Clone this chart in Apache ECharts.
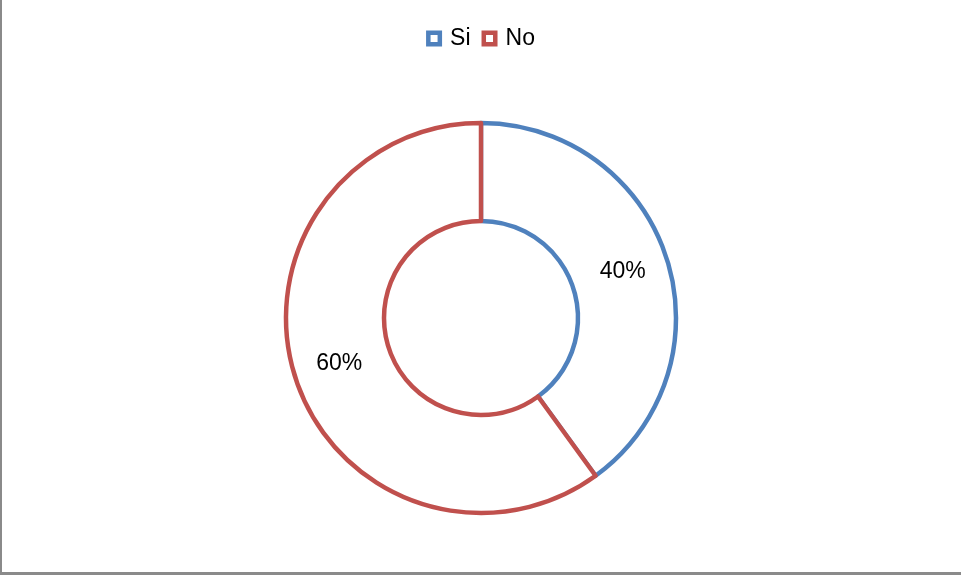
<!DOCTYPE html>
<html>
<head>
<meta charset="utf-8">
<script src="https://cdn.jsdelivr.net/npm/echarts@6/dist/echarts.min.js"></script>
<style>
html,body{margin:0;padding:0;background:#fff;}
#chart{width:961px;height:575px;}
</style>
</head>
<body>
<div id="chart"></div>
<script>
const categories = ['Si', 'No'];
const values = [40, 60];
const labels = ['40%', '60%'];
const colors = ['#4F81BD', '#C0504D'];

const chart = echarts.init(document.getElementById('chart'), null, {renderer: 'canvas'});
const font = '"Liberation Sans", Arial, sans-serif';
// hollow square legend icon (outer clockwise, inner counter-clockwise)
const hollowSquare = 'path://M0,0H32V32H0Z M9,9V23H23V9Z';

chart.setOption({
  backgroundColor: '#ffffff',
  animation: false,
  legend: {
    left: 'center',
    top: 22,
    itemWidth: 16,
    itemHeight: 16,
    itemGap: 11,
    textStyle: {fontFamily: font, fontSize: 23, color: '#000', padding: [0, 0, 0, 3]},
    data: categories.map((c, i) => ({
      name: c,
      icon: hollowSquare,
      itemStyle: {color: colors[i], borderWidth: 0}
    }))
  },
  graphic: [
    {type: 'rect', shape: {x: 0, y: 0, width: 2, height: 575}, style: {fill: '#8a8a8a'}},
    {type: 'rect', shape: {x: 0, y: 572, width: 961, height: 3}, style: {fill: '#8a8a8a'}}
  ],
  series: [{
    type: 'pie',
    center: [481, 318],
    radius: [97, 195],
    startAngle: 90,
    clockwise: true,
    avoidLabelOverlap: false,
    label: {
      show: true,
      position: 'inside',
      fontFamily: font,
      fontSize: 23,
      color: '#000',
      formatter: p => labels[p.dataIndex]
    },
    labelLine: {show: false},
    emphasis: {disabled: true},
    data: categories.map((c, i) => ({
      name: c,
      value: values[i],
      itemStyle: {color: '#fff', borderColor: colors[i], borderWidth: 4.5, borderJoin: 'round'}
    }))
  }]
});
</script>
</body>
</html>
